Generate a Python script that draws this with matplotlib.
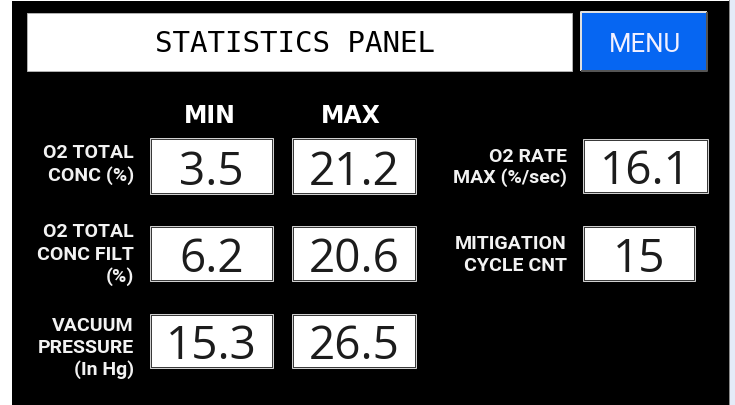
import matplotlib
matplotlib.use("Agg")
import matplotlib.pyplot as plt
from matplotlib.patches import Rectangle
from matplotlib import font_manager

# ---------------- data ----------------
title_text = "STATISTICS PANEL"
menu_text = "MENU"
col_headers = ["MIN", "MAX"]
row_labels = [["O2 TOTAL", "CONC (%)"],
              ["O2 TOTAL", "CONC FILT", "(%)"],
              ["VACUUM", "PRESSURE", "(In Hg)"]]
min_values = ["3.5", "6.2", "15.3"]
max_values = ["21.2", "20.6", "26.5"]
right_labels = [["O2 RATE", "MAX (%/sec)"],
                ["MITIGATION", "CYCLE CNT"]]
right_values = ["16.1", "15"]

# ---------------- fonts ----------------
def has_font(name):
    try:
        font_manager.findfont(font_manager.FontProperties(family=name),
                              fallback_to_default=False)
        return True
    except Exception:
        return False

NARROW = "Roboto" if has_font("Roboto") else "DejaVu Sans"
VALUE_FONT = "Open Sans" if has_font("Open Sans") else "DejaVu Sans"
MONO = "DejaVu Sans Mono"

label_kw = dict(family=[NARROW, "DejaVu Sans"], weight="bold", fontsize=14)
menu_kw = dict(family=[NARROW, "DejaVu Sans"], fontsize=18.5)

# ---------------- layout (pixel coords) ----------------
W, H = 735, 406
fig = plt.figure(figsize=(W / 100, H / 100), dpi=100, facecolor="white")
ax = fig.add_axes([0, 0, 1, 1])
ax.set_xlim(0, W)
ax.set_ylim(H, 0)
ax.axis("off")
PX = 0.72  # 1 px in points

# black screen area
ax.add_patch(Rectangle((12, 2), 717, H, facecolor="black", edgecolor="none"))
ax.add_patch(Rectangle((729, 0), 1.5, H, facecolor="#8a8a8a", edgecolor="none"))
ax.add_patch(Rectangle((730.5, 0), 5, H, facecolor="#e4ebf8", edgecolor="none"))

# title box
ax.add_patch(Rectangle((27, 14), 545, 58, facecolor="white",
                       edgecolor="#b0b0b0", linewidth=PX))
ax.text(295, 52, title_text, family=MONO, fontsize=21, color="black",
        ha="center", va="baseline")

# menu button with bevel
mx0, my0, mx1, my1 = 581, 13, 707, 72
ax.add_patch(Rectangle((mx0, my0), mx1 - mx0, my1 - my0, facecolor="#0666f2",
                       edgecolor="none"))
ax.plot([mx0, mx0, mx1], [my1, my0, my0], color="#e0e0e0", lw=2 * PX,
        solid_capstyle="butt")
ax.plot([mx0, mx1, mx1], [my1, my1, my0], color="#555555", lw=2 * PX,
        solid_capstyle="butt")
ax.text(645, 52, menu_text, color="#f2f0ff", ha="center", va="baseline", **menu_kw)


def value_box(x0, y0, x1, y1, txt):
    ax.add_patch(Rectangle((x0 - 1, y0 - 1), x1 - x0 + 2, y1 - y0 + 2,
                           facecolor="none", edgecolor="#d0d0d0", linewidth=PX))
    ax.add_patch(Rectangle((x0, y0), x1 - x0, y1 - y0, facecolor="white",
                           edgecolor="#3a3a3a", linewidth=PX))
    ax.text((x0 + x1) / 2, y1 - 9, txt, family=VALUE_FONT, weight="medium",
            fontsize=33, color="#1c1c1c", ha="center", va="baseline")


def label_block(xr, baselines, lines):
    for yb, line in zip(baselines, lines):
        ax.text(xr, yb, line, color="#f2f2f2", ha="right", va="baseline",
                **label_kw)


# column headers
head_x = [210, 351]
for hx, h in zip(head_x, col_headers):
    ax.text(hx, 123, h, family="DejaVu Sans", weight="bold", fontsize=17,
            color="white", ha="center", va="baseline")

# left rows
row_boxes_y = [(140, 194), (228, 281), (316, 368)]
row_baselines = [[158, 181], [237, 260, 282], [331, 353, 375]]
min_x = (151, 272)
max_x = (293, 415)
for i in range(len(row_labels)):
    y0, y1 = row_boxes_y[i]
    value_box(min_x[0], y0, min_x[1], y1, min_values[i])
    value_box(max_x[0], y0, max_x[1], y1, max_values[i])
    label_block(134, row_baselines[i], row_labels[i])

# right rows
right_boxes = [(584, 141, 707, 193), (584, 228, 694, 281)]
right_baselines = [[162, 183], [249, 271]]
for i in range(len(right_labels)):
    x0, y0, x1, y1 = right_boxes[i]
    value_box(x0, y0, x1, y1, right_values[i])
    label_block(567, right_baselines[i], right_labels[i])

fig.savefig("out.png", dpi=100, facecolor="white")
